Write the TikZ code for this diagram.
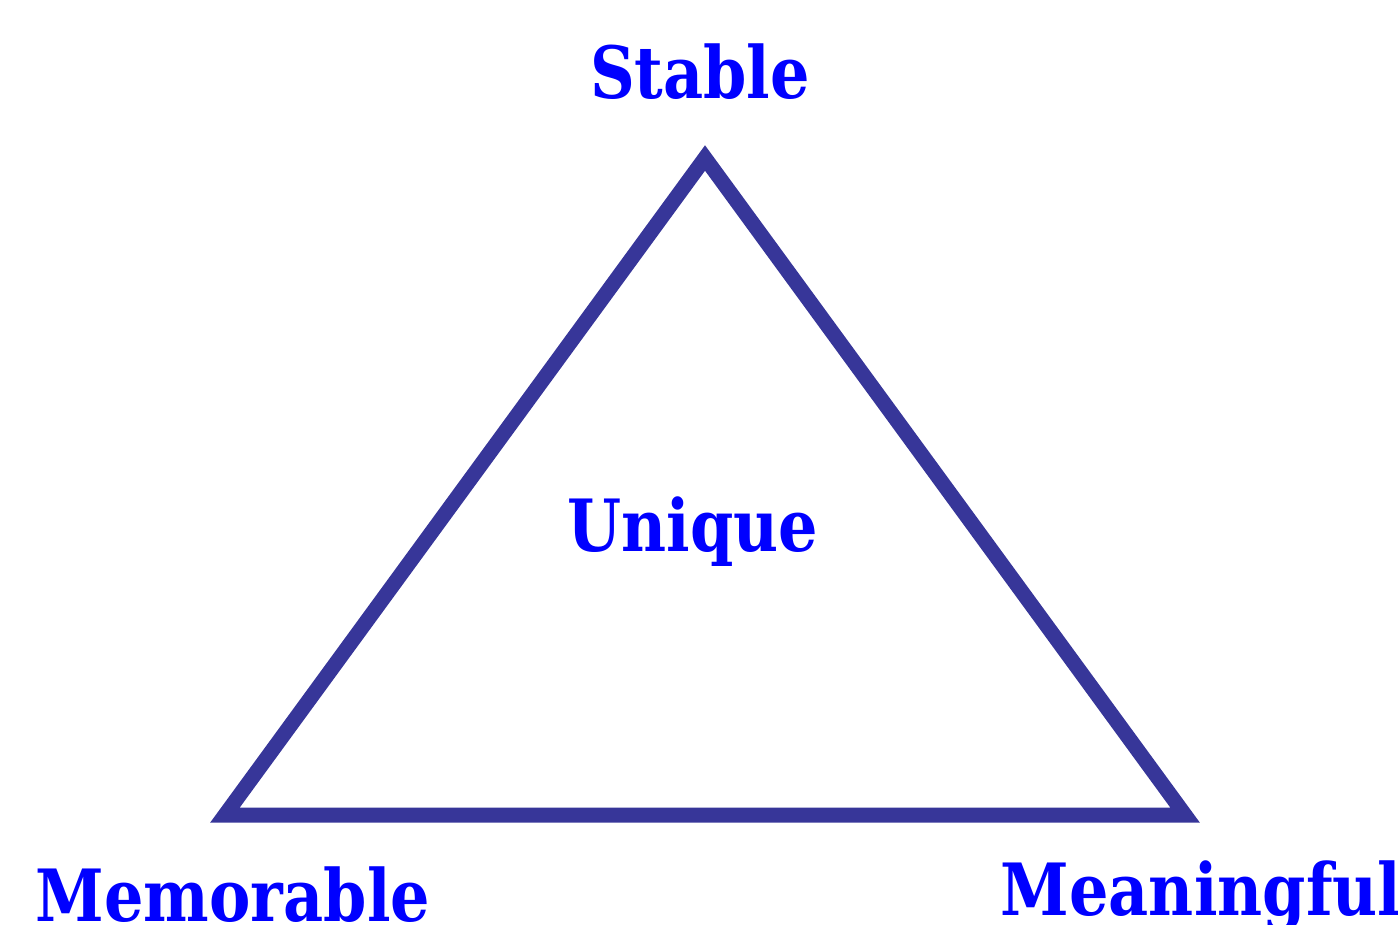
\documentclass[tikz,border=0pt]{standalone}
\usepackage{fontspec}
\setmainfont[FakeStretch=0.86]{DejaVu Serif}
\usepackage{xcolor}
\usetikzlibrary{positioning,calc}
\definecolor{Edge}{HTML}{373699}
\definecolor{Word}{HTML}{0000FF}

\begin{document}
\begin{tikzpicture}[
    x=0.01cm, y=-0.01cm,
    corner/.style={
        font=\bfseries\fontsize{20.5}{24}\selectfont,
        text=Word,
        anchor=base,
        inner sep=0pt
    },
    side/.style={
        draw=Edge,
        line width=0.15cm,
        miter limit=10
    }
]

% Canvas
\useasboundingbox (0,0) rectangle (1398,924);

% Corners of the triangle
\coordinate (top) at (705,158);
\coordinate (left) at (225,815);
\coordinate (right) at (1185,815);

\draw[side] (top) -- (right) -- (left) -- cycle;

% Labels
\node[corner] (stable) at (700,98) {Stable};
\node[corner] (unique) at (693,551) {Unique};
\node[corner] (memorable) at (233,921) {Memorable};
\node[corner] (meaningful) at (1201,915) {Meaningful};

\end{tikzpicture}
\end{document}
